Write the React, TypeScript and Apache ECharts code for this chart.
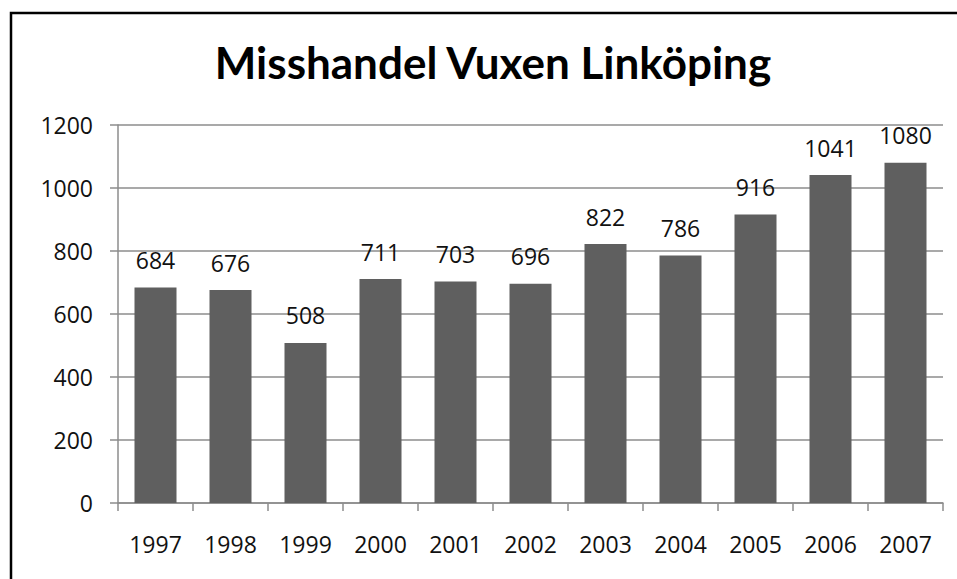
import React, { useEffect, useRef } from "react";
import * as echarts from "echarts";

const titleText = "Misshandel Vuxen Linköping";
const years = ["1997", "1998", "1999", "2000", "2001", "2002", "2003", "2004", "2005", "2006", "2007"];
const cases = [684, 676, 508, 711, 703, 696, 822, 786, 916, 1041, 1080];
const yTicks = { min: 0, max: 1200, interval: 200 };

const FONT = "Open Sans";
const TITLE_FONT = "Lato";

export default function App() {
  const ref = useRef<HTMLDivElement>(null);
  useEffect(() => {
    if (!ref.current) return;
    const chart = echarts.init(ref.current, undefined, { renderer: "svg" });
    chart.setOption({
      animation: false,
      backgroundColor: "#ffffff",
      title: {
        text: titleText,
        left: 488,
        textAlign: "center",
        top: 35,
        textStyle: { fontFamily: TITLE_FONT, fontWeight: "bold", fontSize: 44, color: "#000000" },
      },
      graphic: [
        {
          type: "rect",
          shape: { x: 11, y: 13, width: 1100, height: 1000 },
          style: { fill: "none", stroke: "#000000", lineWidth: 2.5 },
          silent: true,
        },
      ],
      grid: { left: 118, right: 14, top: 125, bottom: 76 },
      xAxis: {
        type: "category",
        data: years,
        axisLine: { show: true, lineStyle: { color: "#8c8c8c", width: 1.5 } },
        axisTick: { show: true, length: 8, lineStyle: { color: "#8c8c8c", width: 1.5 } },
        axisLabel: { fontFamily: FONT, fontSize: 23, color: "#111111", margin: 29 },
      },
      yAxis: {
        type: "value",
        min: yTicks.min,
        max: yTicks.max,
        interval: yTicks.interval,
        axisLine: { show: true, lineStyle: { color: "#8c8c8c", width: 1.5 } },
        axisTick: { show: true, length: 8, lineStyle: { color: "#8c8c8c", width: 1.5 } },
        axisLabel: {
          fontFamily: FONT,
          fontSize: 23,
          color: "#111111",
          margin: 25,
          formatter: (v: number) => String(v),
        },
        splitLine: { show: true, lineStyle: { color: "#8c8c8c", width: 1.5 } },
      },
      series: [
        {
          type: "bar",
          data: cases,
          barWidth: "56%",
          itemStyle: { color: "#5f5f5f" },
          label: {
            show: true,
            position: "top",
            distance: 16,
            fontFamily: FONT,
            fontSize: 23,
            color: "#111111",
          },
        },
      ],
    });
    return () => chart.dispose();
  }, []);
  return (
    <div
      ref={ref}
      style={{ position: "fixed", left: 0, top: 0, width: 957, height: 579 }}
    />
  );
}
